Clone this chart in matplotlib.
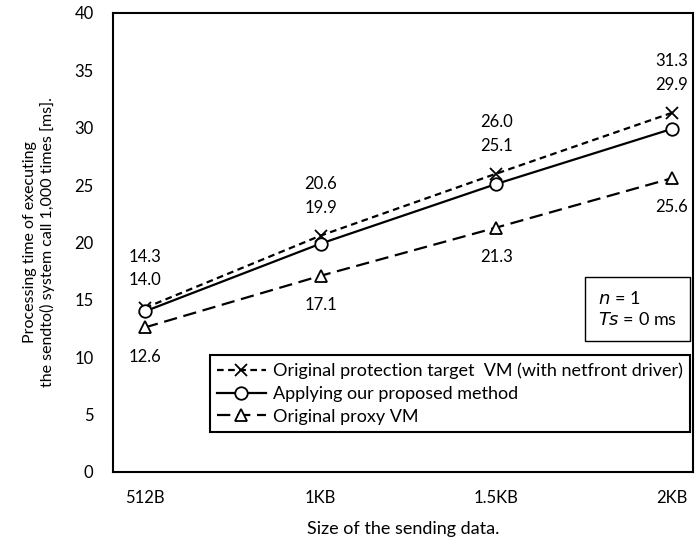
import matplotlib
matplotlib.use("Agg")
from matplotlib import pyplot as plt

# data
sizes = ["512B", "1KB", "1.5KB", "2KB"]
original_target = [14.3, 20.6, 26.0, 31.3]
proposed = [14.0, 19.9, 25.1, 29.9]
proxy = [12.6, 17.1, 21.3, 25.6]

plt.rcParams["font.family"] = ["Lato", "DejaVu Sans"]
plt.rcParams["font.size"] = 12

fig = plt.figure(figsize=(6.95, 5.42), dpi=100)
ax = fig.add_axes([113 / 695, 1 - 472 / 542, 580 / 695, (472 - 13) / 542])

x = list(range(len(sizes)))
ax.plot(x, original_target, color="black", linestyle=(0, (3, 2)), linewidth=1.6,
        marker="x", markersize=9, markeredgewidth=1.3,
        label="Original protection target  VM (with netfront driver)")
ax.plot(x, proposed, color="black", linestyle="-", linewidth=1.6,
        marker="o", markersize=9, markerfacecolor="white", markeredgewidth=1.3,
        label="Applying our proposed method")
ax.plot(x, proxy, color="black", linestyle=(0, (6, 3)), linewidth=1.6,
        marker="^", markersize=9, markerfacecolor="white", markeredgewidth=1.3,
        label="Original proxy VM")

# value labels: the two upper series are stacked above the cross marker
for i in x:
    ax.annotate(f"{original_target[i]:.1f}", (i, original_target[i]),
                xytext=(0, 37), textcoords="offset points", ha="center", va="center")
    ax.annotate(f"{proposed[i]:.1f}", (i, original_target[i]),
                xytext=(0, 20), textcoords="offset points", ha="center", va="center")
    ax.annotate(f"{proxy[i]:.1f}", (i, proxy[i]),
                xytext=(0, -21), textcoords="offset points", ha="center", va="center")

ax.set_xlim(-0.182, 3.12)
ax.set_ylim(0, 40)
ax.set_xticks(x)
ax.set_xticklabels(sizes)
ax.set_yticks(range(0, 41, 5))
ax.tick_params(length=0, pad=13, labelsize=12)
ax.tick_params(axis="y", pad=14)
for s in ax.spines.values():
    s.set_linewidth(1.5)

ax.set_xlabel("Size of the sending data.", labelpad=11, fontsize=13)
ax.set_ylabel("Processing time of executing\nthe sendto() system call 1,000 times [ms].",
              labelpad=14, fontsize=11.5)

leg = ax.legend(loc="lower right", bbox_to_anchor=(690 / 695, 1 - 432 / 542),
                bbox_transform=fig.transFigure, frameon=True, fancybox=False,
                fontsize=13, handlelength=2.7, handletextpad=0.4, borderpad=0.4,
                labelspacing=0.38, borderaxespad=0, framealpha=1)
leg.get_frame().set_edgecolor("black")
leg.get_frame().set_linewidth(1.5)

fig.text(598 / 695, 1 - 309 / 542, "$n$ = 1\n$Ts$ = 0 ms", ha="left", va="center",
         linespacing=1.35, fontsize=13,
         bbox=dict(boxstyle="square,pad=0.7", facecolor="white", edgecolor="black",
                   linewidth=1.0))

plt.savefig("out.png", dpi=100)
